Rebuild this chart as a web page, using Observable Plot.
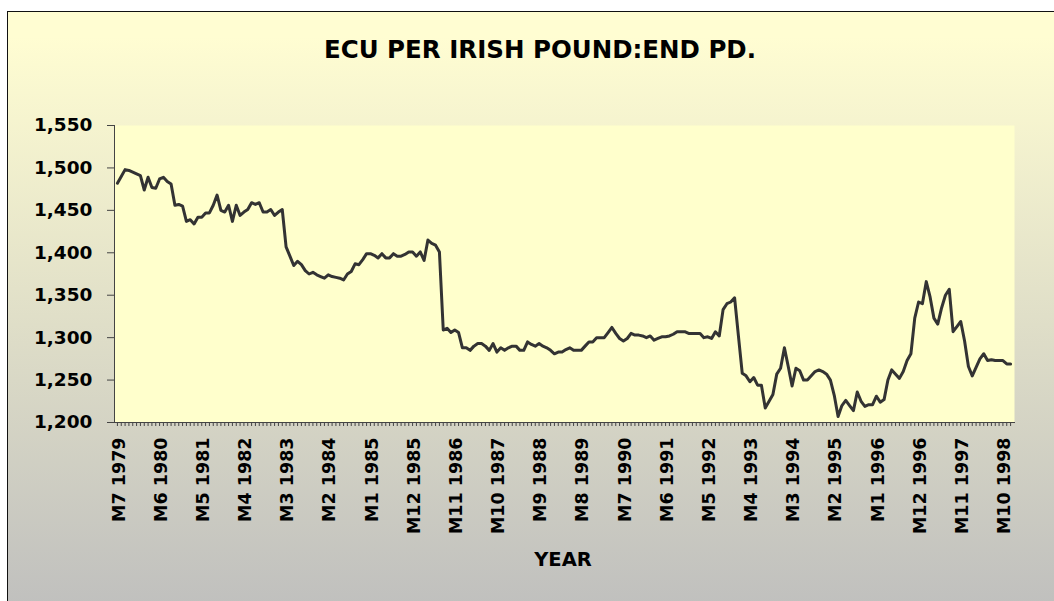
<!DOCTYPE html>
<html>
<head>
<meta charset="utf-8">
<script src="https://cdn.jsdelivr.net/npm/d3@7"></script>
<script src="https://cdn.jsdelivr.net/npm/@observablehq/plot@0.6"></script>
<style>
  html, body { margin: 0; padding: 0; background: #fff; }
  #wrap { position: relative; width: 1054px; height: 601px; overflow: hidden; background: #fff; }
  #frame { position: absolute; left: 7px; top: 11px; width: 1080px; height: 620px;
           border-left: 1.5px solid #111; border-top: 1.5px solid #111;
           background: linear-gradient(to bottom, #fffdd2 4%, #bdbdbd 100%); }
  #title { position: absolute; left: 0; width: 1080px; top: 38px; text-align: center;
           font: bold 24.5px/1 "DejaVu Sans", sans-serif; color: #000; }
  #xlabel { position: absolute; left: 463px; width: 200px; top: 550px; text-align: center;
            font: bold 19.5px/1 "DejaVu Sans", sans-serif; color: #000; }
  #chart { position: absolute; left: 0; top: 0; }
</style>
</head>
<body>
<div id="wrap">
  <div id="frame"></div>
  <div id="chart"></div>
  <div id="title">ECU PER IRISH POUND:END PD.</div>
  <div id="xlabel">YEAR</div>
</div>
<script>
// Monthly ECU per Irish pound, end of period, starting M7 1979
const startYear = 1979;
const startMonth = 7;

const v1979 = [1.482, 1.490, 1.498, 1.497, 1.495, 1.493];
const v1980 = [1.491, 1.474, 1.489, 1.477, 1.476, 1.487, 1.489, 1.484, 1.481, 1.456, 1.457, 1.455];
const v1981 = [1.437, 1.439, 1.434, 1.442, 1.442, 1.447, 1.447, 1.456, 1.468, 1.450, 1.448, 1.456];
const v1982 = [1.437, 1.456, 1.444, 1.448, 1.451, 1.459, 1.457, 1.459, 1.448, 1.448, 1.451, 1.444];
const v1983 = [1.448, 1.451, 1.407, 1.396, 1.385, 1.390, 1.386, 1.379, 1.375, 1.377, 1.374, 1.372];
const v1984 = [1.370, 1.374, 1.372, 1.371, 1.370, 1.368, 1.375, 1.378, 1.387, 1.386, 1.392, 1.399];
const v1985 = [1.399, 1.397, 1.394, 1.399, 1.394, 1.394, 1.399, 1.396, 1.396, 1.398, 1.401, 1.401];
const v1986 = [1.396, 1.401, 1.391, 1.415, 1.411, 1.409, 1.401, 1.309, 1.311, 1.306, 1.309, 1.306];
const v1987 = [1.288, 1.288, 1.285, 1.290, 1.293, 1.293, 1.290, 1.285, 1.293, 1.283, 1.288, 1.285];
const v1988 = [1.288, 1.290, 1.290, 1.285, 1.285, 1.295, 1.292, 1.290, 1.293, 1.290, 1.288, 1.285];
const v1989 = [1.281, 1.283, 1.283, 1.286, 1.288, 1.285, 1.285, 1.285, 1.290, 1.295, 1.295, 1.300];
const v1990 = [1.300, 1.300, 1.306, 1.312, 1.305, 1.299, 1.296, 1.299, 1.305, 1.303, 1.303, 1.302];
const v1991 = [1.300, 1.302, 1.297, 1.299, 1.301, 1.301, 1.302, 1.304, 1.307, 1.307, 1.307, 1.305];
const v1992 = [1.305, 1.305, 1.305, 1.300, 1.301, 1.299, 1.307, 1.302, 1.333, 1.340, 1.342, 1.347];
const v1993 = [1.302, 1.258, 1.255, 1.248, 1.253, 1.244, 1.244, 1.217, 1.225, 1.233, 1.257, 1.264];
const v1994 = [1.288, 1.266, 1.243, 1.264, 1.261, 1.250, 1.250, 1.255, 1.260, 1.262, 1.260, 1.257];
const v1995 = [1.250, 1.232, 1.207, 1.220, 1.226, 1.220, 1.214, 1.236, 1.225, 1.219, 1.221, 1.221];
const v1996 = [1.231, 1.224, 1.227, 1.250, 1.262, 1.257, 1.252, 1.260, 1.273, 1.281, 1.323, 1.342];
const v1997 = [1.340, 1.366, 1.348, 1.323, 1.316, 1.335, 1.350, 1.357, 1.307, 1.313, 1.319, 1.296];
const v1998 = [1.266, 1.255, 1.265, 1.275, 1.281, 1.273, 1.274, 1.273, 1.273, 1.273, 1.269, 1.269];

const tickLabels = ["M7 1979", "M6 1980", "M5 1981", "M4 1982", "M3 1983", "M2 1984", "M1 1985",
  "M12 1985", "M11 1986", "M10 1987", "M9 1988", "M8 1989", "M7 1990", "M6 1991", "M5 1992",
  "M4 1993", "M3 1994", "M2 1995", "M1 1996", "M12 1996", "M11 1997", "M10 1998"];

const yTicks = [1.2, 1.25, 1.3, 1.35, 1.4, 1.45, 1.5, 1.55];

const values = [].concat(v1979, v1980, v1981, v1982, v1983, v1984, v1985, v1986, v1987, v1988,
  v1989, v1990, v1991, v1992, v1993, v1994, v1995, v1996, v1997, v1998);

const data = values.map((value, i) => {
  const k = startMonth - 1 + i;
  return { label: "M" + ((k % 12) + 1) + " " + (startYear + Math.floor(k / 12)), value };
});
const categories = data.map(d => d.label);

const fmt = d3.format(".3f");

const chart = Plot.plot({
  width: 1054,
  height: 601,
  marginLeft: 114,
  marginRight: 40,
  marginTop: 125,
  marginBottom: 179,
  style: { background: "transparent", fontFamily: "DejaVu Sans", fontWeight: "bold", color: "#000", overflow: "visible" },
  x: { type: "point", domain: categories, insetLeft: 1, insetRight: 2 },
  y: { domain: [1.2, 1.55] },
  marks: [
    Plot.frame({ fill: "#ffffcc", stroke: "none" }),
    Plot.axisY({ ticks: yTicks, tickSize: 7, tickPadding: 15, fontSize: 18.5,
      tickFormat: d => fmt(d).replace(".", ","), label: null, stroke: "#444" }),
    Plot.axisX({ ticks: categories, tickSize: 4, tickFormat: () => "", label: null, stroke: "#444" }),
    Plot.axisX({ ticks: tickLabels, tickSize: 0, tickPadding: 15, tickRotate: -90, fontSize: 17.5, label: null, dx: 1.5 }),
    Plot.frame({ anchor: "left", stroke: "#444" }),
    Plot.frame({ anchor: "bottom", stroke: "#444" }),
    Plot.lineY(data, { x: "label", y: "value", stroke: "#333333", strokeWidth: 3, strokeLinejoin: "round" })
  ]
});
document.getElementById("chart").appendChild(chart);
</script>
</body>
</html>
